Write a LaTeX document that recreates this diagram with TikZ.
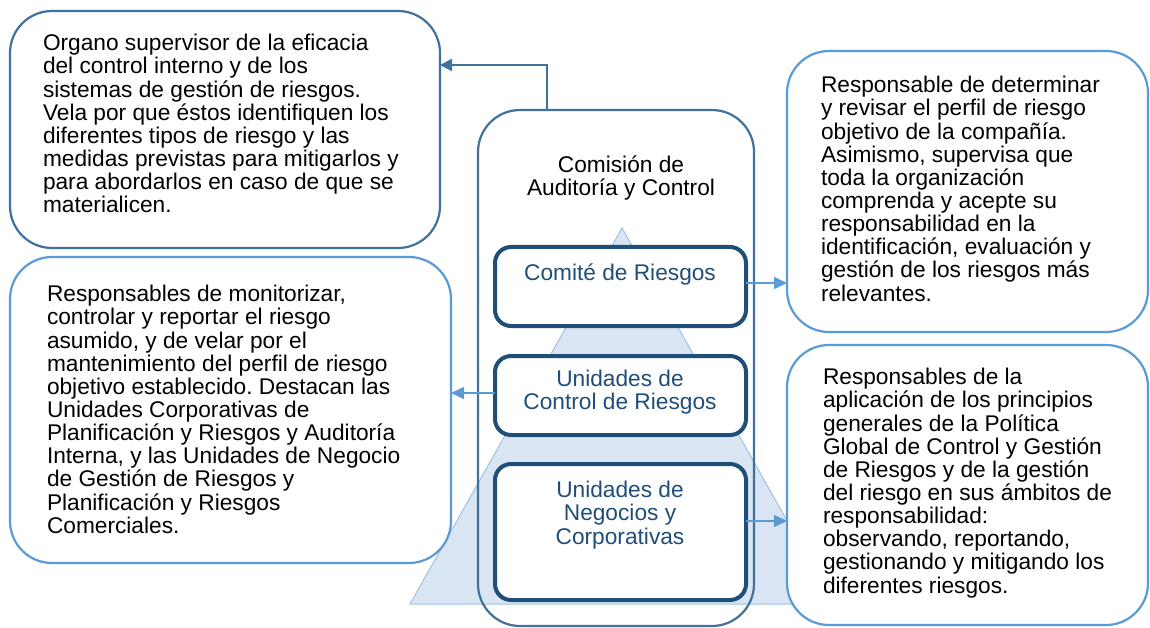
\documentclass[tikz,border=0pt]{standalone}
\usepackage{fontspec}
\setmainfont{Liberation Sans}
\frenchspacing
\usetikzlibrary{arrows.meta,calc}
\definecolor{steel}{HTML}{41719C}
\definecolor{lightb}{HTML}{5B9BD5}
\definecolor{navy}{HTML}{1F4E79}
\definecolor{trifill}{HTML}{D9E5F3}
\definecolor{triedge}{HTML}{9DC3E6}
\begin{document}
\begin{tikzpicture}[x=1pt,y=-1pt,
  bigbox/.style={draw, fill=white, rounded corners=42pt, line width=2.2pt, inner sep=0pt, outer sep=0pt},
  innerbox/.style={draw=navy, fill=white, rounded corners=16pt, line width=4pt, inner sep=0pt, outer sep=0pt},
  desc/.style={font=\fontsize{22.7}{23.15}\selectfont, align=left, anchor=north west, inner sep=0pt, outer sep=0pt, text=black},
  ctext/.style={font=\fontsize{22.7}{23.15}\selectfont, align=center, anchor=north, inner sep=0pt, outer sep=0pt},
  link/.style={draw=lightb, line width=1.3pt, -{Triangle[length=13pt,width=12pt]}},
  toplink/.style={draw=steel, line width=2.5pt, -{Triangle[length=12pt,width=12pt]}}
]
\useasboundingbox (0,0) rectangle (1150,628);
\fill[white] (0,0) rectangle (1150,628);
% background pyramid
\draw[fill=trifill, draw=triedge, line width=1pt] (622,228) -- (410,604) -- (834,604) -- cycle;
% central column
\node[bigbox, draw=steel, fill=none, minimum width=276pt, minimum height=516pt] (c) at (616,368) {};
% description boxes
\node[bigbox, draw=steel, minimum width=430pt, minimum height=237pt] (b1) at (225,129.5) {};
\node[bigbox, draw=lightb, minimum width=441pt, minimum height=306pt] (b2) at (230.5,410) {};
\node[bigbox, draw=lightb, minimum width=361pt, minimum height=281pt] (b3) at (967.5,191.5) {};
\node[bigbox, draw=lightb, minimum width=361pt, minimum height=280pt] (b4) at (967.5,485) {};
% inner boxes
\node[innerbox, minimum width=251pt, minimum height=79pt] (i1) at (620.5,286.5) {};
\node[innerbox, minimum width=251pt, minimum height=79pt] (i2) at (620.5,395.5) {};
\node[innerbox, minimum width=251pt, minimum height=136pt] (i3) at (620.5,532) {};
% texts
\node[desc] (t1) at (43,34.3) {Organo supervisor de la eficacia\\del control interno y de los\\sistemas de gestión de riesgos.\\Vela por que éstos identifiquen los\\diferentes tipos de riesgo y las\\medidas previstas para mitigarlos y\\para abordarlos en caso de que se\\materialicen.};
\node[desc] (t2) at (47,285.3) {Responsables de monitorizar,\\controlar y reportar el riesgo\\asumido, y de velar por el\\mantenimiento del perfil de riesgo\\objetivo establecido. Destacan las\\Unidades Corporativas de\\Planificación y Riesgos y Auditoría\\Interna, y las Unidades de Negocio\\de Gestión de Riesgos y\\Planificación y Riesgos\\Comerciales.};
\node[desc] (t3) at (821,76.3) {Responsable de determinar\\y revisar el perfil de riesgo\\objetivo de la compañía.\\Asimismo, supervisa que\\toda la organización\\comprenda y acepte su\\responsabilidad en la\\identificación, evaluación y\\gestión de los riesgos más\\relevantes.};
\node[desc] (t4) at (823,368.3) {Responsables de la\\aplicación de los principios\\generales de la Política\\Global de Control y Gestión\\de Riesgos y de la gestión\\del riesgo en sus ámbitos de\\responsabilidad:\\observando, reportando,\\gestionando y mitigando los\\diferentes riesgos.};
\node[ctext, text=black] (tc) at (621,155.3) {Comisión de\\Auditoría y Control};
\node[ctext, text=navy] (ti1) at (620,263.3) {Comité de Riesgos};
\node[ctext, text=navy] (ti2) at (620,370.3) {Unidades de\\Control de Riesgos};
\node[ctext, text=navy] (ti3) at (620,481.3) {Unidades de\\Negocios y\\Corporativas};
% connectors
\draw[toplink] ($(c.north)+(-69,0)$) |- ($(b1.north east)+(0,54)$);
\draw[link] ($(i1.east)+(0,-3.5)$) -- ($(i1.east -| b3.west)+(0,-3.5)$);
\draw[link] ($(i2.west)+(0,-2.5)$) -- ($(i2.west -| b2.east)+(0,-2.5)$);
\draw[link] ($(i3.east)+(0,-11)$) -- ($(i3.east -| b4.west)+(0,-11)$);
\end{tikzpicture}
\end{document}
